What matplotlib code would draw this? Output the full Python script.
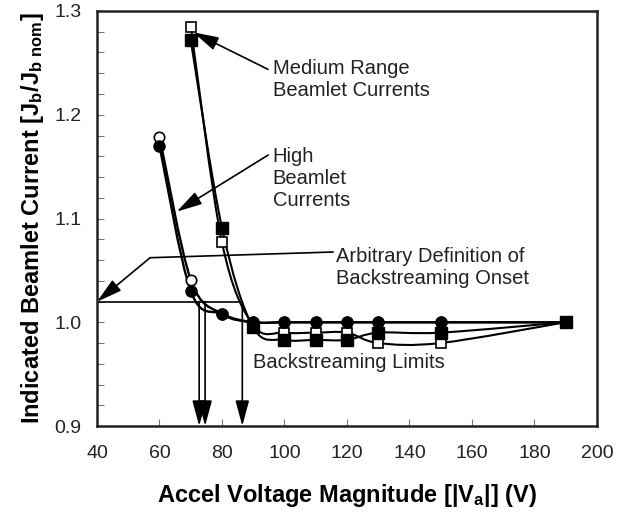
import numpy as np
import matplotlib
matplotlib.use("Agg")
import matplotlib.pyplot as plt
from matplotlib.path import Path
from matplotlib.patches import PathPatch
from matplotlib.ticker import MultipleLocator, FormatStrFormatter

plt.rcParams['font.family'] = ['Liberation Sans', 'DejaVu Sans']
plt.rcParams['mathtext.fontset'] = 'custom'
plt.rcParams['mathtext.rm'] = 'Liberation Sans:bold'
plt.rcParams['mathtext.it'] = 'Liberation Sans:bold'
plt.rcParams['mathtext.bf'] = 'Liberation Sans:bold'

# ---- data ----
high_open_x = [60, 70, 80, 90, 100, 110, 120, 130, 150, 190]
high_open_y = [1.179, 1.041, 1.008, 1.000, 1.000, 1.000, 1.000, 1.000, 1.000, 1.000]
high_fill_x = [60, 70, 80, 90, 100, 110, 120, 130, 150, 190]
high_fill_y = [1.170, 1.030, 1.008, 1.000, 1.000, 1.000, 1.000, 1.000, 1.000, 1.000]
med_open_x = [70, 80, 90, 100, 110, 120, 130, 150, 190]
med_open_y = [1.285, 1.077, 0.997, 0.990, 0.990, 0.990, 0.980, 0.980, 1.000]
med_fill_x = [70, 80, 90, 100, 110, 120, 130, 150, 190]
med_fill_y = [1.272, 1.091, 0.995, 0.983, 0.983, 0.983, 0.990, 0.990, 1.000]

onset_level = 1.02
limits_x = [72.7, 74.6, 86.5]

x_ticks = [40, 60, 80, 100, 120, 140, 160, 180, 200]
y_ticks = [0.9, 1.0, 1.1, 1.2, 1.3]


def smooth_path(xs, ys, t=1/6.0):
    """Excel-like smoothed line as cubic Bezier path through the data points."""
    xs = np.asarray(xs, float)
    ys = np.asarray(ys, float)
    n = len(xs)
    verts = [(xs[0], ys[0])]
    codes = [Path.MOVETO]
    for i in range(n - 1):
        p0 = np.array([xs[max(i - 1, 0)], ys[max(i - 1, 0)]])
        p1 = np.array([xs[i], ys[i]])
        p2 = np.array([xs[i + 1], ys[i + 1]])
        p3 = np.array([xs[min(i + 2, n - 1)], ys[min(i + 2, n - 1)]])
        c1 = p1 + (p2 - p0) * t
        c2 = p2 - (p3 - p1) * t
        verts += [tuple(c1), tuple(c2), tuple(p2)]
        codes += [Path.CURVE4] * 3
    return Path(verts, codes)


fig = plt.figure(figsize=(6.27, 5.14), dpi=100)
ax = fig.add_axes([0.1547, 0.1712, 0.7974, 0.8074])

# curves
for xs, ys, lw in [(high_open_x, high_open_y, 1.7), (high_fill_x, high_fill_y, 1.7),
                   (med_open_x, med_open_y, 1.5), (med_fill_x, med_fill_y, 1.5)]:
    ax.add_patch(PathPatch(smooth_path(xs, ys), facecolor='none', edgecolor='black',
                           lw=lw, zorder=3))

# markers (open first, filled on top)
ax.plot(high_open_x, high_open_y, 'o', ms=7.5, mfc='white', mec='black', mew=1.2, zorder=4)
ax.plot(med_open_x, med_open_y, 's', ms=6.5, mfc='white', mec='black', mew=1.2, zorder=4)
ax.plot(high_fill_x, high_fill_y, 'o', ms=8, mfc='black', mec='black', zorder=5)
ax.plot(med_fill_x, med_fill_y, 's', ms=8.5, mfc='black', mec='black', zorder=6)

# onset line and backstreaming limits
ax.plot([40, max(limits_x)], [onset_level, onset_level], color='black', lw=1.2, zorder=2)
arrow_kw = dict(arrowstyle='-|>,head_length=1.3,head_width=0.35', mutation_scale=12,
                color='black', lw=1.2, shrinkA=0, shrinkB=0)
for lx in limits_x:
    ax.annotate('', xy=(lx, 0.9), xytext=(lx, onset_level), arrowprops=arrow_kw, zorder=2)

# annotations
txt_kw = dict(fontsize=14.5, color='#222222', va='center', ha='left', linespacing=1.2)
ax.annotate('', xy=(70.8, 1.2795), xytext=(94.7, 1.2438), arrowprops=arrow_kw)
ax.text(96.2, 1.2335, 'Medium Range\nBeamlet Currents', **txt_kw)
ax.annotate('', xy=(65.5, 1.1066), xytext=(94.8, 1.1612), arrowprops=arrow_kw)
ax.text(96.2, 1.1385, 'High\nBeamlet\nCurrents', **txt_kw)
ax.plot([115.5, 57.0], [1.0677, 1.0622], color='black', lw=1.2)
ax.annotate('', xy=(40.0, 1.0198), xytext=(57.0, 1.0622), arrowprops=arrow_kw)
ax.text(116.5, 1.0532, 'Arbitrary Definition of\nBackstreaming Onset', **txt_kw)
ax.text(90.0, 0.9616, 'Backstreaming Limits', **txt_kw)

ax.set_xlim(40, 200)
ax.set_ylim(0.9, 1.3)
ax.set_xticks(x_ticks)
ax.set_yticks(y_ticks)
ax.yaxis.set_minor_locator(MultipleLocator(0.02))
ax.yaxis.set_major_formatter(FormatStrFormatter('%.1f'))
ax.tick_params(axis='both', which='both', direction='in', length=5, width=0.8,
               color='#777777', labelsize=14, labelcolor='#222222')
ax.tick_params(axis='x', pad=14)
ax.tick_params(axis='y', pad=11)
for s in ax.spines.values():
    s.set_linewidth(1.8)
    s.set_color('#222222')

ax.set_xlabel('Accel Voltage Magnitude [|V$_\\mathrm{a}$|] (V)', fontsize=17,
              fontweight='bold', labelpad=14)
ax.set_ylabel('Indicated Beamlet Current [J$_\\mathrm{b}$/J$_\\mathrm{b\\ nom}$]',
              fontsize=17, fontweight='bold', labelpad=6)

fig.savefig('out.png', dpi=100)
